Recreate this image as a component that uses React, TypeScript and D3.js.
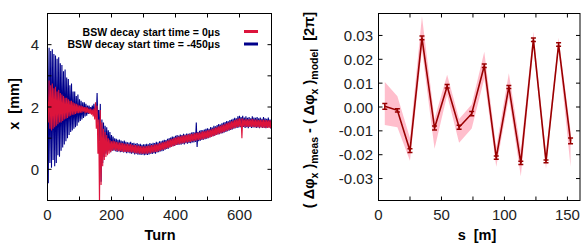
import React from "react";
import * as d3 from "d3";

// ---- left panel: turn-by-turn orbit, sampled envelope every 5 turns ----
const turns = d3.range(0, 701, 5);

// BSW decay start time = -450us (blue)
const blueHi = [
  3.85, 3.9, 3.8, 3.85, 3.7, 3.65, 3.55, 3.6, 3.4, 3.35, 3.15, 3.2, 2.95, 2.9, 2.7, 2.75, 2.5, 2.5, 2.35, 2.4, 2.25,
  2.2, 2.15, 2.15, 2.1, 2.05, 2.05, 2.0, 2.05, 2.1, 1.95, 2.45, 1.9, 2.1, 1.6, 1.5, 1.4, 1.35, 1.25, 1.2, 1.1,
  1.05, 1.0, 0.98, 0.95, 0.96, 0.92, 0.9, 0.92, 0.88, 0.87,
  0.86, 0.88, 0.84, 0.85, 0.82, 0.84, 0.8, 0.82, 0.79, 0.8,
  0.8, 0.82, 0.8, 0.84, 0.82, 0.85, 0.84, 0.88, 0.86, 0.9,
  0.9, 0.92, 0.95, 0.94, 0.98, 1.0, 1.02, 1.05, 1.04, 1.08,
  1.1, 1.08, 1.12, 1.1, 1.14, 1.12, 1.15, 1.14, 1.16, 1.18,
  1.2, 1.18, 1.5, 1.2, 1.24, 1.26, 1.25, 1.28, 1.3, 1.32,
  1.3, 1.36, 1.34, 1.4, 1.38, 1.42, 1.45, 1.44, 1.48, 1.5,
  1.52, 1.55, 1.54, 1.58, 1.6, 1.62, 1.65, 1.64, 1.7, 1.72,
  1.68, 1.72, 1.66, 1.7, 1.65, 1.68, 1.64, 1.7, 1.66, 1.65,
  1.68, 1.64, 1.66, 1.62, 1.68, 1.64, 1.62, 1.66, 1.6, 1.62,
];
const blueLo = [
  -0.45, 0.2, 0.05, 0.3, 0.1, 0.2, 0.45, 0.4, 0.6, 0.7, 0.8, 0.9, 1.0, 1.1, 1.2, 1.25, 1.3, 1.35, 1.4, 1.5, 1.55,
  1.6, 1.65, 1.7, 1.72, 1.78, 1.8, 1.82, 1.8, 1.82, 1.7, 1.5, 0.9, -0.4, 0.2, 0.4, 0.5, 0.55, 0.6, 0.55, 0.6,
  0.6, 0.58, 0.56, 0.58, 0.55, 0.56, 0.54, 0.55, 0.52, 0.54,
  0.52, 0.5, 0.52, 0.48, 0.5, 0.47, 0.48, 0.46, 0.48, 0.45,
  0.47, 0.46, 0.48, 0.5, 0.49, 0.52, 0.5, 0.54, 0.55, 0.57,
  0.58, 0.6, 0.63, 0.65, 0.66, 0.7, 0.72, 0.74, 0.75, 0.78,
  0.78, 0.8, 0.79, 0.82, 0.8, 0.84, 0.82, 0.85, 0.84, 0.86,
  0.86, 0.88, 0.72, 0.9, 0.92, 0.94, 0.95, 0.97, 0.98, 1.0,
  1.02, 1.04, 1.06, 1.08, 1.1, 1.12, 1.13, 1.15, 1.16, 1.18,
  1.2, 1.22, 1.24, 1.26, 1.28, 1.3, 1.32, 1.33, 1.34, 1.35,
  1.34, 1.36, 1.33, 1.35, 1.32, 1.36, 1.33, 1.34, 1.35, 1.33,
  1.34, 1.32, 1.35, 1.33, 1.34, 1.32, 1.33, 1.35, 1.31, 1.32,
];

// BSW decay start time = 0us (red)
const redHi = [
  2.2, 2.85, 2.7, 2.75, 2.6, 2.65, 2.5, 2.55, 2.45, 2.4, 2.35, 2.3, 2.3, 2.25, 2.2, 2.2, 2.15, 2.12, 2.1, 2.08, 2.05,
  2.05, 2.02, 2.0, 2.0, 1.98, 1.95, 1.95, 1.92, 1.95, 2.15, 2.05, 1.6, 1.9, 1.5, 1.3, 1.2, 1.1, 1.0, 0.95, 0.9,
  0.92, 0.9, 0.88, 0.87, 0.86, 0.85, 0.84, 0.83, 0.82, 0.82,
  0.8, 0.81, 0.79, 0.78, 0.78, 0.76, 0.76, 0.75, 0.74, 0.74,
  0.74, 0.75, 0.76, 0.76, 0.78, 0.78, 0.8, 0.8, 0.82, 0.84,
  0.85, 0.87, 0.88, 0.9, 0.92, 0.95, 0.96, 0.98, 1.0, 1.02,
  1.04, 1.05, 1.06, 1.08, 1.08, 1.1, 1.1, 1.12, 1.12, 1.14,
  1.14, 1.16, 1.17, 1.18, 1.18, 1.2, 1.22, 1.22, 1.24, 1.25,
  1.27, 1.28, 1.3, 1.32, 1.34, 1.36, 1.38, 1.4, 1.42, 1.44,
  1.46, 1.48, 1.5, 1.52, 1.54, 1.56, 1.58, 1.6, 1.62, 1.64,
  1.62, 1.64, 1.6, 1.62, 1.6, 1.61, 1.6, 1.62, 1.6, 1.6,
  1.6, 1.58, 1.6, 1.58, 1.6, 1.58, 1.58, 1.57, 1.58, 1.57,
];
const redLo = [
  1.5, 1.3, 1.25, 1.3, 1.35, 1.4, 1.45, 1.5, 1.5, 1.55, 1.6, 1.62, 1.65, 1.7, 1.72, 1.75, 1.75, 1.78, 1.8, 1.8, 1.82,
  1.82, 1.85, 1.8, 1.82, 1.8, 1.78, 1.75, 1.7, 1.6, 1.3, 0.5, -1.2, -0.5, 0.1, 0.3, 0.4, 0.45, 0.5, 0.55, 0.6,
  0.62, 0.6, 0.6, 0.58, 0.58, 0.57, 0.56, 0.56, 0.56, 0.56,
  0.55, 0.54, 0.54, 0.52, 0.52, 0.51, 0.5, 0.5, 0.5, 0.5,
  0.5, 0.5, 0.52, 0.52, 0.54, 0.54, 0.56, 0.56, 0.58, 0.6,
  0.62, 0.63, 0.65, 0.67, 0.69, 0.7, 0.72, 0.74, 0.76, 0.78,
  0.8, 0.81, 0.82, 0.84, 0.84, 0.86, 0.86, 0.88, 0.88, 0.9,
  0.9, 0.92, 0.93, 0.94, 0.95, 0.96, 0.97, 0.98, 1.0, 1.01,
  1.02, 1.04, 1.06, 1.08, 1.1, 1.12, 1.14, 1.16, 1.18, 1.2,
  1.22, 1.24, 1.26, 1.28, 1.3, 1.32, 1.33, 1.35, 1.36, 1.38,
  1.0, 1.38, 1.36, 1.37, 1.36, 1.37, 1.36, 1.36, 1.35, 1.35,
  1.35, 1.34, 1.34, 1.34, 1.33, 1.34, 1.33, 1.33, 1.33, 1.32,
];

const legendLabels = ["BSW decay start time = 0\u03bcs", "BSW decay start time = -450\u03bcs"];

// ---- right panel: phase advance difference ----
const sPos = [5, 15, 25, 34.5, 44.5, 54.5, 64, 74, 84, 93.5, 103.5, 113, 123, 133, 143, 152.5];
const dPhi = [
  0.0003, -0.0014, -0.0183, 0.029, -0.0088, 0.0087, -0.0085, -0.0028, 0.0173, -0.0212, 0.0084, -0.0234, 0.0282,
  -0.0228, 0.0262, -0.0142,
];
const dPhiErr = [
  0.0012, 0.0007, 0.0008, 0.0008, 0.0008, 0.0007, 0.0008, 0.0009, 0.0007, 0.0007, 0.0006, 0.0007, 0.0007, 0.0006,
  0.0007, 0.0012,
];
const bandHi = [
  0.0105, 0.0045, -0.013, 0.038, -0.005, 0.0135, -0.005, 0.001, 0.0232, -0.017, 0.0142, -0.018, 0.0315, -0.019, 0.029,
  -0.01,
];
const bandLo = [
  -0.0075, -0.0085, -0.0225, 0.024, -0.0175, 0.005, -0.015, -0.009, 0.012, -0.025, 0.004, -0.029, 0.025, -0.026, 0.024,
  -0.025,
];

const leftXTicks = d3.range(0, 701, 100);
const leftXLabels = [0, 200, 400, 600];
const leftYTicks = [0, 1, 2, 3, 4];
const leftYLabels = [0, 2, 4];
const rightXTicks = d3.range(0, 151, 25);
const rightXLabels = [0, 50, 100, 150];
const rightYTicks = [-0.03, -0.02, -0.01, 0, 0.01, 0.02, 0.03];

const FONT = "'Liberation Sans', Arial, Helvetica, sans-serif";
const RED = "#dc143c";
const BLUE = "#00008b";
const DARKRED = "#990000";
const PINK = "#ffb3c3";
const TICK = 4;
const SP = "\u00a0"; // keep the double spaces of the gnuplot labels

const App = () => {
  const xL = d3.scaleLinear().domain([0, 700]).range([47.5, 271.5]);
  const yL = d3.scaleLinear().domain([-1, 5]).range([200.5, 13.5]);
  const xR = d3.scaleLinear().domain([0, 160]).range([378.5, 580]);
  const yR = d3.scaleLinear().domain([-0.0392, 0.0392]).range([200.5, 13.5]);

  const zigzag = (hi: number[], lo: number[]) =>
    d3
      .line<[number, number]>()
      .x((d) => xL(d[0]))
      .y((d) => yL(d[1]))(turns.flatMap((t, i) => [[t, hi[i]], [t + 2.5, lo[i]]] as [number, number][]));

  const phiLine = d3
    .line<number>()
    .x((_, i) => xR(sPos[i]))
    .y((d) => yR(d))(dPhi);
  const band = d3
    .area<number>()
    .x((_, i) => xR(sPos[i]))
    .y0((_, i) => yR(bandLo[i]))
    .y1((d) => yR(d))(bandHi);

  const [lx0, lx1] = xL.range();
  const [ly0, ly1] = yL.range();
  const [rx0, rx1] = xR.range();
  const [ry0, ry1] = yR.range();

  return (
    <svg width={581} height={244} style={{ position: "absolute", left: 0, top: 0, background: "#fff" }} fontFamily={FONT}>
      <defs>
        <clipPath id="clipL">
          <rect x={lx0} y={ly1} width={lx1 - lx0} height={ly0 - ly1} />
        </clipPath>
        <clipPath id="clipR">
          <rect x={rx0} y={ry1} width={rx1 - rx0} height={ry0 - ry1} />
        </clipPath>
      </defs>

      {/* left panel */}
      <g clipPath="url(#clipL)">
        <path d={zigzag(blueHi, blueLo) ?? ""} fill="none" stroke={BLUE} strokeWidth={1.1} />
        <path d={zigzag(redHi, redLo) ?? ""} fill="none" stroke={RED} strokeWidth={1.1} />
      </g>
      <g stroke="#000" strokeWidth={1}>
        {leftXTicks.map((t) => (
          <g key={`lx${t}`}>
            <line x1={xL(t)} x2={xL(t)} y1={ly0} y2={ly0 - TICK} />
            <line x1={xL(t)} x2={xL(t)} y1={ly1} y2={ly1 + TICK} />
          </g>
        ))}
        {leftYTicks.map((t) => (
          <g key={`ly${t}`}>
            <line x1={lx0} x2={lx0 + TICK} y1={yL(t)} y2={yL(t)} />
            <line x1={lx1} x2={lx1 - TICK} y1={yL(t)} y2={yL(t)} />
          </g>
        ))}
        <rect x={lx0} y={ly1} width={lx1 - lx0} height={ly0 - ly1} fill="none" />
      </g>
      <g fontSize={15} fill="#222">
        {leftXLabels.map((t) => (
          <text key={`lxl${t}`} x={xL(t)} y={220} textAnchor="middle">
            {t}
          </text>
        ))}
        {leftYLabels.map((t) => (
          <text key={`lyl${t}`} x={39} y={yL(t) + 5.5} textAnchor="end">
            {t}
          </text>
        ))}
      </g>
      <text x={160} y={240} textAnchor="middle" fontSize={14.5} fontWeight="bold">
        Turn
      </text>
      <text transform="translate(19,104) rotate(-90)" textAnchor="middle" fontSize={14.5} fontWeight="bold">
        {`x${SP}${SP}[mm]`}
      </text>
      <g fontSize={10.5} fontWeight="bold">
        {legendLabels.map((l, i) => (
          <g key={l}>
            <text x={220} y={35.5 + i * 12.5} textAnchor="end">
              {l}
            </text>
            <line x1={244} x2={258} y1={31.5 + i * 12.5} y2={31.5 + i * 12.5} stroke={i === 0 ? RED : BLUE} strokeWidth={3} />
          </g>
        ))}
      </g>

      {/* right panel */}
      <g clipPath="url(#clipR)">
        <path d={band ?? ""} fill={PINK} opacity={0.85} />
        <path d={phiLine ?? ""} fill="none" stroke={DARKRED} strokeWidth={1.6} />
        {dPhi.map((v, i) => {
          const x = xR(sPos[i]);
          const y0 = yR(v - dPhiErr[i]);
          const y1 = yR(v + dPhiErr[i]);
          return (
            <g key={`eb${i}`} stroke={DARKRED} strokeWidth={1.5}>
              <line x1={x} x2={x} y1={y0} y2={y1} />
              <line x1={x - 2.5} x2={x + 2.5} y1={y0} y2={y0} />
              <line x1={x - 2.5} x2={x + 2.5} y1={y1} y2={y1} />
            </g>
          );
        })}
      </g>
      <g stroke="#000" strokeWidth={1}>
        {rightXTicks.map((t) => (
          <g key={`rx${t}`}>
            <line x1={xR(t)} x2={xR(t)} y1={ry0} y2={ry0 - TICK} />
            <line x1={xR(t)} x2={xR(t)} y1={ry1} y2={ry1 + TICK} />
          </g>
        ))}
        {rightYTicks.map((t) => (
          <g key={`ry${t}`}>
            <line x1={rx0} x2={rx0 + TICK} y1={yR(t)} y2={yR(t)} />
            <line x1={rx1} x2={rx1 - TICK} y1={yR(t)} y2={yR(t)} />
          </g>
        ))}
        <rect x={rx0} y={ry1} width={rx1 - rx0} height={ry0 - ry1} fill="none" />
      </g>
      <g fontSize={15} fill="#222">
        {rightXLabels.map((t) => (
          <text key={`rxl${t}`} x={xR(t)} y={220} textAnchor="middle">
            {t}
          </text>
        ))}
        {rightYTicks.map((t) => (
          <text key={`ryl${t}`} x={373} y={yR(t) + 5.5} textAnchor="end">
            {d3.format(".2f")(t).replace("\u2212", "-")}
          </text>
        ))}
      </g>
      <text x={477} y={240} textAnchor="middle" fontSize={14.5} fontWeight="bold">
        {`s${SP}${SP}[m]`}
      </text>
      <text transform="translate(314,110) rotate(-90)" textAnchor="middle" fontSize={14.5} fontWeight="bold">
        <tspan>{`(${SP}Δφ`}</tspan>
        <tspan fontSize={10.5} dy={4}>x</tspan>
        <tspan dy={-4}>{`${SP})`}</tspan>
        <tspan fontSize={10.5} dy={4}>meas</tspan>
        <tspan dy={-4}>{`${SP}-${SP}(${SP}Δφ`}</tspan>
        <tspan fontSize={10.5} dy={4}>x</tspan>
        <tspan dy={-4}>{`${SP})`}</tspan>
        <tspan fontSize={10.5} dy={4}>model</tspan>
        <tspan dy={-4}>{`${SP}${SP}[2π]`}</tspan>
      </text>
    </svg>
  );
};

export default App;
